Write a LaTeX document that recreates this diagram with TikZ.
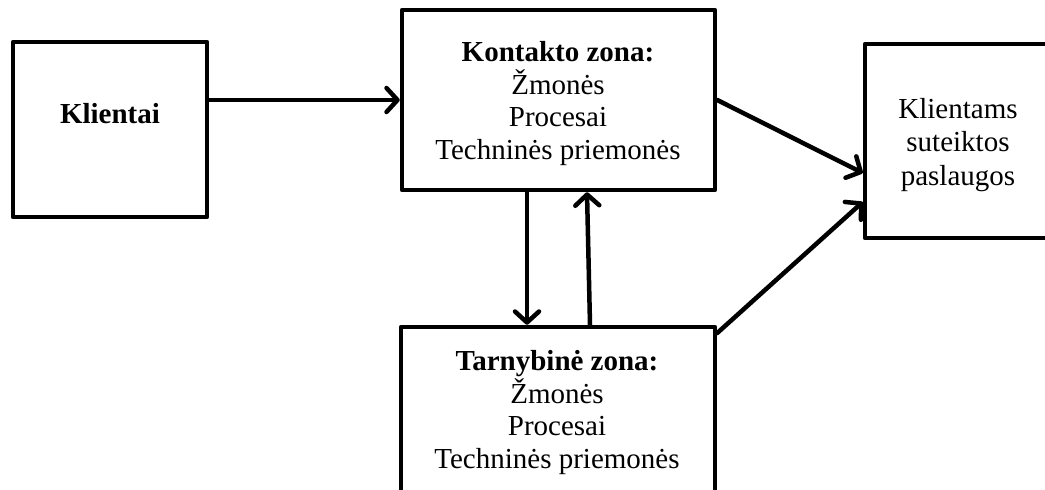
\documentclass[tikz,border=0pt]{standalone}
\usepackage{fontspec}
\setmainfont{Liberation Serif}
\usetikzlibrary{arrows.meta}
\begin{document}
\begin{tikzpicture}[x=1pt,y=-1pt,
  box/.style={draw, line width=4.5pt, line join=round, rectangle, inner sep=0pt},
  txt/.style={align=center, inner sep=0pt, anchor=base,
    font=\fontsize{29}{32.5}\selectfont},
  arr/.style={line width=4.5pt, line cap=round,
    -{Straight Barb[length=11pt,width=24pt,line cap=round,line join=round]}}]
  \useasboundingbox (0,0) rectangle (1045,490);
  \clip (0,0) rectangle (1045,490);

  % boxes
  \node[box, minimum width=194pt, minimum height=175pt] (kli) at (110,129.5) {};
  \node[box, minimum width=313pt, minimum height=180pt] (kon) at (558.5,100) {};
  \node[box, minimum width=200pt, minimum height=194pt] (res) at (965,141) {};
  \node[box, minimum width=314pt, minimum height=183pt] (tar) at (558,418.5) {};

  % texts (anchored at the baseline of their last line)
  \node[txt] (klit) at (110,123) {\textbf{Klientai}};
  \node[txt] (kont) at (558,159) {\textbf{Kontakto zona:}\\Žmonės\\Procesai\\Techninės priemonės};
  \node[txt, font=\fontsize{29}{33.5}\selectfont] (rest) at (958,185) {Klientams\\suteiktos\\paslaugos};
  \node[txt] (tart) at (557,468) {\textbf{Tarnybinė zona:}\\Žmonės\\Procesai\\Techninės priemonės};

  % connectors
  \draw[arr] (kli.east |- 0,100) -- (kon.west |- 0,100);
  \draw[arr] (kon.east |- 0,100) -- (res.west |- 0,173);
  \draw[arr] (tar.east |- 0,333) -- (res.west |- 0,202);
  \draw[arr] (kon.south -| 527,0) -- (tar.north -| 527,0);
  \draw[arr] (tar.north -| 590,0) -- (kon.south -| 587,0);
\end{tikzpicture}
\end{document}
